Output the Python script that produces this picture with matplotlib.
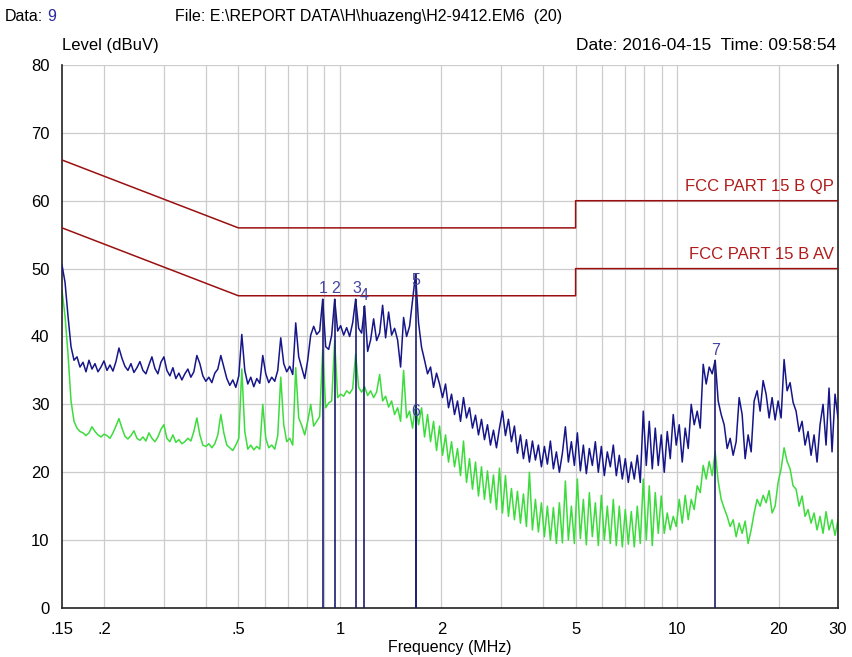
"""Conducted emission scan, FCC part 15 B limits."""

import matplotlib

matplotlib.use("Agg")
import matplotlib.pyplot as plt
import numpy as np
from matplotlib.ticker import FixedLocator, NullFormatter, NullLocator

plt.rcParams["font.family"] = ["Liberation Sans Narrow", "Liberation Sans", "DejaVu Sans"]

# sweep: 260 points, log spaced from 0.15 to 30 MHz
f_start, f_stop = 0.15, 30.0

# peak detector trace (dBuV)
peak_level = [
    50.5, 48.0, 43.0, 38.5, 36.5, 37.0, 35.5, 36.2, 34.8, 36.5,
    35.2, 36.0, 34.8, 35.5, 36.4, 35.0, 35.8, 34.9, 36.3, 38.3,
    36.8, 35.6, 35.0, 36.0, 34.7, 35.4, 36.3, 35.0, 34.5, 35.8,
    37.0, 35.3, 34.5, 36.2, 37.0, 35.0, 34.2, 35.4, 33.8, 34.6,
    33.6, 34.5, 35.2, 34.0, 34.8, 37.2, 36.0, 34.2, 33.4, 34.0,
    33.2, 34.6, 35.2, 37.2, 35.5, 33.8, 32.8, 33.6, 32.5, 34.2,
    40.3, 35.0, 33.0, 34.0, 32.6, 33.8, 33.1, 37.2, 34.5, 33.2,
    34.0, 33.4, 35.0, 39.8, 36.0, 34.8, 35.6, 34.4, 42.0, 37.0,
    35.4, 33.8, 36.5, 40.2, 41.5, 40.3, 40.8, 45.5, 38.5, 38.1,
    40.2, 45.5, 40.8, 41.6, 40.2, 41.3, 40.0, 42.0, 45.5, 41.2,
    40.5, 44.5, 37.8, 39.5, 42.6, 39.4, 40.5, 44.6, 39.8, 43.6,
    40.2, 41.2, 39.5, 35.5, 42.8, 40.0, 41.5, 45.3, 49.2, 42.0,
    38.4, 36.5, 34.5, 35.5, 32.5, 34.6, 33.0, 31.0, 33.0, 29.5,
    31.5, 28.5, 30.5, 27.5, 31.0, 28.0, 29.5, 26.5, 28.4, 25.5,
    27.8, 24.8, 27.0, 24.0, 26.2, 23.6, 26.5, 29.0, 25.4, 27.8,
    24.5, 26.8, 22.8, 25.5, 22.0, 24.8, 21.5, 24.6, 21.8, 24.0,
    20.8, 23.8, 21.2, 24.6, 20.5, 23.0, 20.0, 22.8, 26.7, 21.5,
    24.5, 21.0, 25.8, 20.2, 24.0, 19.8, 23.5, 21.0, 24.5, 20.0,
    23.8, 19.5, 23.0, 20.8, 24.0, 19.5, 22.5, 19.0, 22.0, 18.5,
    21.5, 19.0, 22.5, 18.5, 29.0, 21.0, 27.5, 20.5, 26.5, 21.0,
    25.5, 20.0, 26.0, 22.0, 28.5, 24.0, 27.0, 21.5, 26.5, 23.5,
    30.0, 27.0, 29.0, 26.5, 35.9, 33.0, 35.5, 34.5, 36.5, 30.5,
    28.5, 27.0, 23.5, 25.0, 22.5, 24.5, 31.0, 28.5, 22.0, 25.5,
    23.0, 30.5, 32.0, 29.0, 33.5, 31.5, 28.0, 31.0, 27.7, 30.5,
    28.0, 36.6, 32.0, 33.2, 30.3, 29.0, 26.0, 27.5, 24.0, 26.0,
    22.5, 25.5, 21.5, 27.0, 30.0, 24.0, 32.4, 23.0, 31.5, 28.0,
]

# average detector trace (dBuV)
avg_level = [
    46.8, 43.0, 37.4, 30.5, 27.5, 26.5, 26.0, 25.8, 25.4, 25.8,
    26.7, 26.0, 25.5, 25.2, 25.6, 25.4, 25.0, 25.8, 26.8, 27.9,
    26.5, 25.3, 24.9, 25.4, 26.1, 25.0, 24.7, 25.2, 24.6, 25.8,
    25.0, 24.5, 25.2, 26.3, 27.0, 25.0, 24.5, 25.5, 24.4, 24.8,
    24.2, 24.5, 25.0, 24.6, 26.0, 28.0, 25.5, 24.0, 23.8, 24.2,
    23.6, 24.2, 25.5, 28.5, 25.8, 24.0, 23.6, 23.2, 24.0, 25.0,
    35.2, 26.0, 23.4, 24.0, 23.3, 23.8, 23.4, 30.0, 25.0, 23.6,
    24.0, 23.4, 25.4, 34.0, 27.0, 24.5, 25.0, 24.0, 35.4, 28.0,
    26.9, 25.5, 27.5, 30.0, 26.8, 27.5, 28.2, 38.0, 29.5, 30.2,
    30.5, 39.4, 31.0, 31.5, 31.2, 32.0, 31.6, 32.3, 37.4, 32.5,
    31.8, 32.6, 31.3, 32.0, 31.0, 31.8, 34.4, 30.5, 31.2, 29.6,
    30.5, 28.5, 29.5, 27.5, 35.0, 28.0, 29.0, 26.5, 30.0, 27.0,
    29.5, 25.2, 28.5, 24.5, 27.5, 23.2, 26.8, 22.5, 25.5, 21.5,
    24.5, 20.8, 23.5, 19.5, 24.6, 18.5, 22.0, 17.5, 21.5, 16.5,
    20.8, 16.0, 20.2, 15.5, 19.6, 14.5, 20.6, 14.0, 19.5, 13.5,
    17.6, 13.0, 17.2, 12.5, 16.8, 12.0, 20.0, 11.5, 16.0, 11.2,
    15.5, 10.5, 15.0, 10.0, 14.8, 9.5, 15.5, 9.6, 18.7, 10.0,
    15.0, 9.5, 19.0, 10.2, 16.0, 9.3, 17.0, 10.5, 15.5, 9.2,
    16.6, 10.0, 15.0, 9.5, 16.0, 9.2, 15.0, 9.0, 14.5, 9.4,
    14.2, 9.0, 15.0, 9.5, 19.0, 10.0, 18.0, 9.2, 17.0, 11.0,
    16.5, 11.0, 14.0, 11.5, 13.5, 12.0, 16.0, 12.5, 16.6, 13.0,
    16.0, 14.5, 18.0, 17.0, 21.0, 19.0, 21.6, 19.5, 23.0, 18.7,
    16.0, 14.7, 13.5, 12.0, 13.0, 10.5, 12.5, 11.0, 12.8, 9.5,
    11.5, 14.0, 16.0, 15.0, 16.6, 15.5, 17.3, 14.0, 15.0, 18.5,
    20.5, 23.6, 21.6, 20.5, 18.0, 17.5, 15.0, 16.5, 13.5, 14.5,
    12.5, 14.0, 11.5, 13.5, 11.0, 14.2, 11.5, 13.0, 10.7, 13.0,
]

# limit lines (corner frequencies in MHz, levels in dBuV)
limit_freq = [0.15, 0.5, 5.0, 5.0, 30.0]
qp_limit = [66, 56, 56, 60, 60]
av_limit = [56, 46, 46, 50, 50]

# marker table
marker_id = ["1", "2", "3", "4", "5", "6", "7"]
marker_freq = [0.89, 0.97, 1.12, 1.18, 1.68, 1.68, 12.96]
marker_level = [45.5, 45.5, 45.5, 44.5, 49.2, 30.0, 36.5]

x_ticks = [0.15, 0.2, 0.5, 1, 2, 5, 10, 20, 30]
x_tick_labels = [".15", ".2", ".5", "1", "2", "5", "10", "20", "30"]
x_grid = [0.2, 0.3, 0.4, 0.5, 0.6, 0.7, 0.8, 0.9, 1, 2, 3, 4, 5, 6, 7, 8, 9, 10, 20]

freq = np.geomspace(f_start, f_stop, len(peak_level))

fig = plt.figure(figsize=(8.52, 6.57), dpi=100)
ax = fig.add_axes([0.0728, 0.0746, 0.9108, 0.8265])

ax.set_xscale("log")
ax.set_xlim(f_start, f_stop)
ax.set_ylim(0, 80)

# grid
for fx in x_grid:
    ax.axvline(fx, color="#cccccc", lw=0.9, zorder=0)
for ly in range(10, 81, 10):
    ax.axhline(ly, color="#cccccc", lw=0.9, zorder=0)

# traces
ax.plot(freq, avg_level, color="#3ddc3d", lw=1.1, zorder=2)
ax.plot(freq, peak_level, color="#16168a", lw=1.1, zorder=3)

# limits
ax.plot(limit_freq, qp_limit, color="#9a1010", lw=1.1, zorder=4)
ax.plot(limit_freq, av_limit, color="#9a1010", lw=1.1, zorder=4)
ax.text(29.2, 61.0, "FCC PART 15 B QP", color="#b01c1c", fontsize=12,
        ha="right", va="bottom")
ax.text(29.2, 51.0, "FCC PART 15 B AV", color="#b01c1c", fontsize=12,
        ha="right", va="bottom")

# markers
ax.vlines(marker_freq, 0, marker_level, color="#1c1c70", lw=1.2, zorder=5)
for mid, mf, ml in zip(marker_id, marker_freq, marker_level):
    if mid in ("5", "6"):
        ax.text(mf, ml - 1.0, mid, color="#4646a0", fontsize=11.5,
                ha="center", va="center", zorder=6)
    else:
        ax.text(mf, ml + 0.4, mid, color="#4646a0", fontsize=11.5,
                ha="center", va="bottom", zorder=6)

# axes cosmetics
ax.xaxis.set_major_locator(FixedLocator(x_ticks))
ax.xaxis.set_minor_locator(NullLocator())
ax.xaxis.set_minor_formatter(NullFormatter())
ax.set_xticklabels(x_tick_labels)
ax.set_yticks(range(0, 81, 10))
ax.tick_params(axis="x", length=0, labelsize=12, pad=10)
ax.tick_params(axis="y", length=0, labelsize=12, pad=9)
ax.spines["top"].set_visible(False)
for side in ("left", "bottom", "right"):
    ax.spines[side].set_color("#222222")
    ax.spines[side].set_linewidth(1.2)

ax.set_xlabel("Frequency (MHz)", fontsize=11.5, labelpad=2)

# header texts
fig.text(0.006, 0.975, "Data:", fontsize=11.5, ha="left", va="center")
fig.text(0.056, 0.975, "9", fontsize=11.5, color="#2a2aa0", ha="left", va="center")
fig.text(0.205, 0.975, "File: E:\\REPORT DATA\\H\\huazeng\\H2-9412.EM6  (20)",
         fontsize=11.5, ha="left", va="center")
fig.text(0.073, 0.93, "Level (dBuV)", fontsize=12, ha="left", va="center")
fig.text(0.981, 0.93, "Date: 2016-04-15  Time: 09:58:54", fontsize=12.5,
         ha="right", va="center")

fig.savefig("out.png", dpi=100)
